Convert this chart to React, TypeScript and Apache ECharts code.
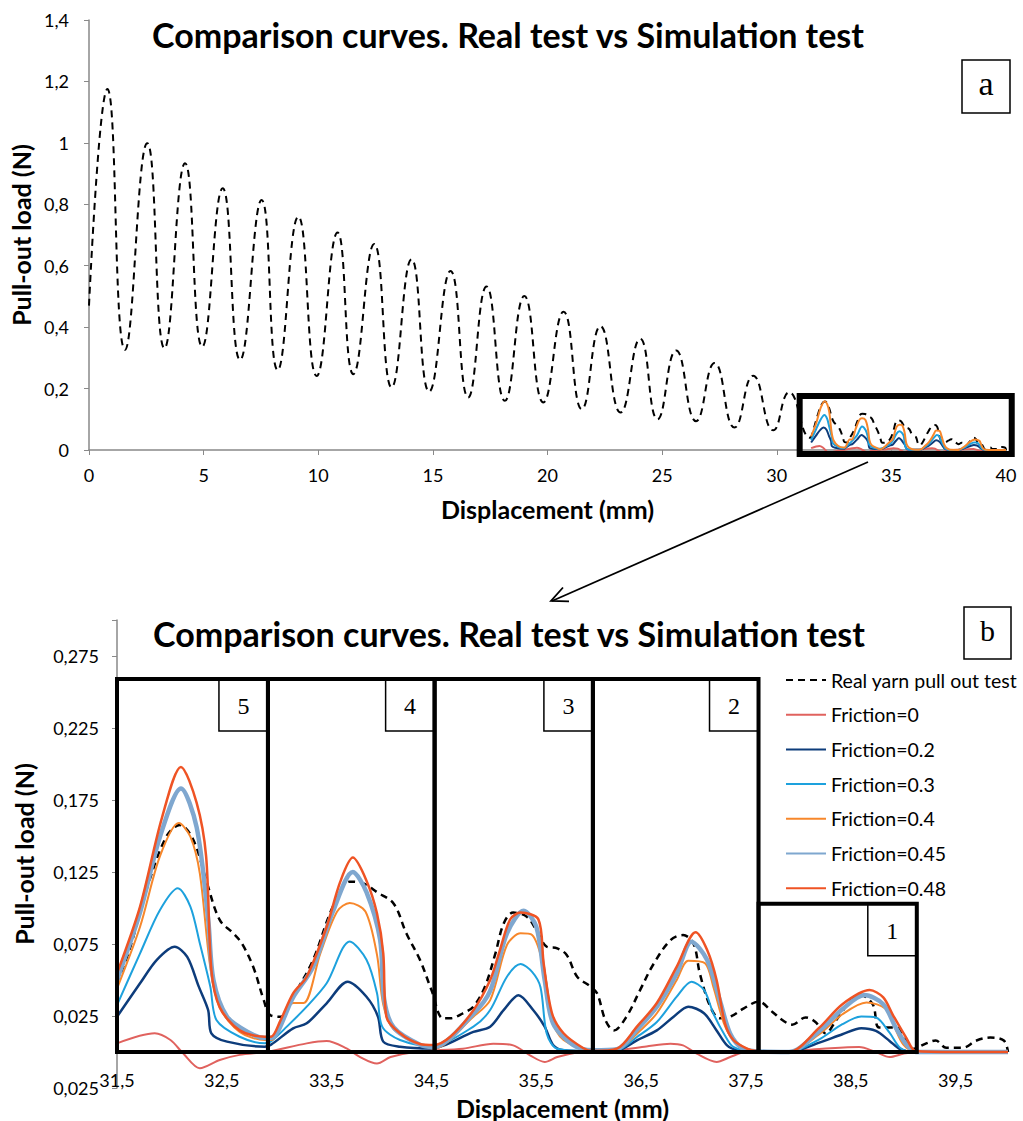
import { useEffect, useRef } from "react";
import * as echarts from "echarts";

const chartTitle = "Comparison curves. Real test vs Simulation test";
const xTitle = "Displacement (mm)";
const yTitle = "Pull-out load (N)";

const seriesNames = [
  "Real yarn pull out test",
  "Friction=0",
  "Friction=0.2",
  "Friction=0.3",
  "Friction=0.4",
  "Friction=0.45",
  "Friction=0.48",
];
const seriesColors = ["#000000", "#E0625E", "#0D3C7B", "#1DA1DD", "#F7872B", "#7FA7CF", "#EF5324"];
const seriesWidths = [2.5, 2, 2.5, 2, 2, 4.5, 2.5];

// Real yarn pull-out test (dashed), 0..40 mm
const realTest: [number, number][] = [
  [0, 0.47], [0.8, 1.175], [1.57, 0.326], [2.54, 0.999], [3.29, 0.331], [4.19, 0.934],
  [4.94, 0.336], [5.83, 0.852], [6.59, 0.293], [7.53, 0.814], [8.23, 0.26], [9.13, 0.76],
  [9.93, 0.241], [10.84, 0.708], [11.53, 0.247], [12.44, 0.671], [13.2, 0.204], [14.07, 0.621],
  [14.84, 0.19], [15.77, 0.583], [16.54, 0.171], [17.34, 0.532], [18.14, 0.16], [18.99, 0.501],
  [19.82, 0.155], [20.7, 0.45], [21.5, 0.133], [22.31, 0.403], [23.19, 0.122], [24.04, 0.362],
  [24.8, 0.1], [25.61, 0.324], [26.48, 0.094], [27.29, 0.283], [28.16, 0.073], [28.97, 0.242],
  [29.85, 0.064], [30.54, 0.188], [31.45, 0.04], [31.61, 0.069], [31.78, 0.1125], [31.97, 0.1495],
  [32.1, 0.1576], [32.23, 0.147], [32.36, 0.117], [32.48, 0.0917], [32.61, 0.0824], [32.69, 0.0755],
  [32.8, 0.059], [32.9, 0.036], [32.96, 0.0257], [33.06, 0.0245], [33.18, 0.0384], [33.37, 0.0639],
  [33.56, 0.101], [33.72, 0.1183], [33.85, 0.117], [33.98, 0.111], [34.14, 0.103], [34.26, 0.0824],
  [34.39, 0.064], [34.5, 0.043], [34.61, 0.0234], [34.68, 0.0234], [34.8, 0.0269], [34.9, 0.0315],
  [35.01, 0.0454], [35.11, 0.0685], [35.19, 0.0894], [35.28, 0.0968], [35.41, 0.094], [35.5, 0.0847],
  [35.6, 0.0731], [35.7, 0.072], [35.79, 0.0674], [35.89, 0.0523], [36.01, 0.0458], [36.08, 0.0407],
  [36.16, 0.022], [36.24, 0.015], [36.36, 0.0245], [36.49, 0.043], [36.62, 0.0613], [36.78, 0.0776],
  [36.9, 0.0812], [37.0, 0.0752], [37.06, 0.0546], [37.16, 0.0315], [37.25, 0.0234], [37.35, 0.0245],
  [37.48, 0.0303], [37.62, 0.035], [37.75, 0.028], [37.85, 0.022], [37.94, 0.019], [38.07, 0.024],
  [38.16, 0.021], [38.26, 0.013], [38.36, 0.022], [38.49, 0.035], [38.58, 0.04], [38.71, 0.033],
  [38.77, 0.017], [38.93, 0.017], [39.09, 0.002], [39.22, 0.006], [39.31, 0.008], [39.41, 0.003],
  [39.57, 0.003], [39.7, 0.008], [39.83, 0.01], [39.96, 0.008], [40.0, 0.0],
];

const friction0: [number, number][] = [
  [31.5, 0.006], [31.86, 0.013], [32.01, 0.0083], [32.13, -0.0009], [32.29, -0.0113], [32.48, -0.0056],
  [32.67, -0.002], [32.93, 0.0002], [33.31, 0.006], [33.5, 0.0076], [33.69, 0.0025], [33.82, -0.0035],
  [33.98, -0.008], [34.11, -0.0035], [34.36, 0.0002], [34.8, 0.0023], [35.09, 0.0058], [35.28, 0.0046],
  [35.44, -0.0023], [35.58, -0.0069], [35.7, -0.0035], [35.92, 0], [36.27, 0.0012], [36.55, 0.0039],
  [36.78, 0.0058], [36.9, 0.0046], [37.03, -0.0012], [37.22, -0.0069], [37.35, -0.0035], [37.5, 0],
  [37.72, 0], [38.23, 0.0023], [38.58, 0.0035], [38.74, 0], [38.87, -0.0035], [39.0, -0.0012],
  [39.12, 0], [39.5, 0], [40, 0],
];

const friction02: [number, number][] = [
  [31.5, 0.0245], [31.72, 0.0477], [31.88, 0.064], [32.05, 0.0731], [32.17, 0.066], [32.28, 0.0454],
  [32.37, 0.029], [32.4, 0.013], [32.55, 0.0072], [32.91, 0.0037], [32.97, 0.0051], [33.18, 0.0164],
  [33.31, 0.0199], [33.5, 0.0338], [33.7, 0.0488], [33.88, 0.0384], [33.99, 0.0245], [34.04, 0.0072],
  [34.2, 0.0037], [34.5, 0.0025], [34.9, 0.014], [35.06, 0.0176], [35.19, 0.0292], [35.33, 0.0394],
  [35.47, 0.0292], [35.58, 0.0176], [35.66, 0.0049], [35.76, 0.0012], [36.04, 0.0005], [36.27, 0.001],
  [36.46, 0.0081], [36.65, 0.015], [36.81, 0.0245], [36.95, 0.0315], [37.1, 0.0269], [37.22, 0.015],
  [37.32, 0.0046], [37.42, 0.0012], [37.6, 0], [37.91, 0], [38.2, 0.0065], [38.42, 0.0123],
  [38.6, 0.0165], [38.74, 0.0146], [38.87, 0.0077], [38.97, 0.002], [39.1, 0], [39.5, 0], [40, 0],
];

const friction03: [number, number][] = [
  [31.5, 0.0326], [31.72, 0.0685], [31.91, 0.0986], [32.08, 0.1137], [32.2, 0.101], [32.29, 0.0755],
  [32.39, 0.0454], [32.45, 0.022], [32.67, 0.0106], [32.91, 0.006], [32.97, 0.0074], [33.12, 0.0176],
  [33.31, 0.0315], [33.5, 0.0477], [33.72, 0.0768], [33.88, 0.064], [33.98, 0.041], [34.03, 0.0176],
  [34.2, 0.0083], [34.5, 0.0042], [34.9, 0.0176], [35.06, 0.0292], [35.22, 0.0523], [35.35, 0.0611],
  [35.46, 0.0556], [35.54, 0.045], [35.6, 0.0127], [35.7, 0.0023], [36.04, 0.0007], [36.27, 0.0012],
  [36.46, 0.0104], [36.65, 0.0208], [36.84, 0.0384], [36.98, 0.0488], [37.1, 0.0431], [37.19, 0.0266],
  [37.29, 0.0127], [37.38, 0.0035], [37.6, 0], [37.91, 0], [38.2, 0.0088], [38.42, 0.0193],
  [38.6, 0.0246], [38.74, 0.0239], [38.87, 0.0134], [38.97, 0.003], [39.1, 0], [39.5, 0], [40, 0],
];

const friction04: [number, number][] = [
  [31.5, 0.044], [31.72, 0.087], [31.91, 0.136], [32.09, 0.159], [32.2, 0.1495], [32.29, 0.124],
  [32.39, 0.059], [32.48, 0.031], [32.67, 0.014], [32.91, 0.0083], [32.97, 0.0083], [33.18, 0.034],
  [33.28, 0.034], [33.44, 0.0685], [33.6, 0.0976], [33.72, 0.1035], [33.87, 0.0976], [33.98, 0.0676],
  [34.04, 0.0329], [34.14, 0.0157], [34.39, 0.0056], [34.52, 0.0023], [34.9, 0.0245], [35.06, 0.036],
  [35.22, 0.0743], [35.35, 0.0824], [35.46, 0.0813], [35.57, 0.0593], [35.65, 0.022], [35.76, 0.0083],
  [36.04, 0.0007], [36.27, 0.0015], [36.46, 0.0127], [36.65, 0.0269], [36.84, 0.05], [36.95, 0.0634],
  [37.11, 0.0616], [37.19, 0.045], [37.29, 0.0199], [37.38, 0.0083], [37.51, 0.0023], [37.6, 0.0005],
  [37.91, 0], [38.2, 0.0123], [38.42, 0.0262], [38.65, 0.0344], [38.84, 0.0297], [38.92, 0.0169],
  [39.0, 0.0053], [39.1, 0.0007], [39.5, 0], [40, 0],
];

const friction045: [number, number][] = [
  [31.5, 0.05], [31.72, 0.097], [31.91, 0.1495], [32.11, 0.183], [32.26, 0.156], [32.37, 0.092],
  [32.42, 0.05], [32.55, 0.0245], [32.77, 0.013], [32.91, 0.0097], [32.97, 0.0097], [33.18, 0.038],
  [33.37, 0.059], [33.56, 0.0976], [33.75, 0.125], [33.88, 0.111], [34.01, 0.078], [34.05, 0.036],
  [34.14, 0.017], [34.39, 0.005], [34.52, 0.0035], [34.9, 0.0266], [35.06, 0.0424], [35.22, 0.0824],
  [35.38, 0.0981], [35.5, 0.087], [35.58, 0.05], [35.66, 0.0199], [35.85, 0.0049], [36.04, 0.0012],
  [36.27, 0.002], [36.46, 0.0155], [36.65, 0.0315], [36.84, 0.0546], [36.98, 0.0766], [37.13, 0.0639],
  [37.25, 0.0361], [37.35, 0.0127], [37.47, 0.0023], [37.6, 0.0005], [37.91, 0], [38.2, 0.0146],
  [38.42, 0.0297], [38.63, 0.0395], [38.81, 0.0332], [38.93, 0.0169], [39.03, 0.0053], [39.12, 0],
  [39.5, 0], [40, 0],
];

const friction048: [number, number][] = [
  [31.5, 0.0546], [31.72, 0.101], [31.93, 0.163], [32.11, 0.198], [32.26, 0.173], [32.35, 0.136],
  [32.4, 0.057], [32.48, 0.031], [32.67, 0.015], [32.91, 0.0106], [32.97, 0.0106], [33.06, 0.022],
  [33.18, 0.0407], [33.31, 0.0523], [33.5, 0.087], [33.63, 0.1183], [33.75, 0.135], [33.88, 0.119],
  [33.98, 0.0963], [34.04, 0.0685], [34.07, 0.0245], [34.2, 0.013], [34.39, 0.0056], [34.52, 0.0049],
  [34.68, 0.0106], [34.9, 0.029], [35.06, 0.05], [35.15, 0.07], [35.25, 0.092], [35.35, 0.0968],
  [35.52, 0.0921], [35.57, 0.0616], [35.65, 0.0269], [35.76, 0.013], [35.95, 0.0026], [36.04, 0.0007],
  [36.27, 0.0023], [36.46, 0.0176], [36.65, 0.034], [36.84, 0.0593], [37.02, 0.0831], [37.13, 0.0708],
  [37.22, 0.05], [37.3, 0.0199], [37.38, 0.0083], [37.51, 0.0023], [37.6, 0.0007], [37.91, 0],
  [38.2, 0.0169], [38.42, 0.0332], [38.68, 0.043], [38.81, 0.0379], [38.9, 0.026], [39.03, 0.0098],
  [39.12, 0.0007], [39.5, 0], [40, 0],
];

const frictionSeries = [friction0, friction02, friction03, friction04, friction045, friction048];

// annotation boxes: [x0, x1, y0, y1]
const overviewBox: [number, number, number, number][] = [[31.0, 40.25, -0.013, 0.176]];
const regionBoxes: [number, number, number, number][] = [
  [31.5, 32.94, 0, 0.259],
  [32.94, 34.53, 0, 0.259],
  [34.53, 36.04, 0, 0.259],
  [36.04, 37.62, 0, 0.259],
  [37.62, 39.13, 0, 0.103],
];
const regionLabels = ["5", "4", "3", "2", "1"];

const FONT = "Lato, 'Noto Sans', sans-serif";
const SERIF = "'Liberation Serif', 'DejaVu Serif', serif";
const AXIS_GRAY = "#898989";

// detail chart offsets (axis ticks counted from 31.5 mm and -0.025 N)
const DX = 31.5;
const DY = -0.025;
const toDetail = (pts: [number, number][]) => pts.map(([x, y]) => [x - DX, y - DY]);

function buildOption(): any {
  const boxRenderer = (lineWidth: number, labels: string[] | null) => (params: any, api: any) => {
    const tl = api.coord([api.value(0), api.value(3)]);
    const br = api.coord([api.value(1), api.value(2)]);
    const children: any[] = [];
    if (labels) {
      children.push({
        type: "rect",
        shape: { x: br[0] - 49, y: tl[1], width: 49, height: 52 },
        style: { fill: "#fff", stroke: "#000", lineWidth: 1.5 },
      });
      children.push({
        type: "text",
        x: br[0] - 24.5,
        y: tl[1] + 27,
        style: {
          text: labels[params.dataIndex],
          font: `24px ${SERIF}`,
          fill: "#000",
          align: "center",
          verticalAlign: "middle",
        },
      });
    }
    children.push({
      type: "rect",
      shape: { x: tl[0], y: tl[1], width: br[0] - tl[0], height: br[1] - tl[1] },
      style: { fill: "none", stroke: "#000", lineWidth },
    });
    return { type: "group", children };
  };

  const series: any[] = [];
  // overview chart
  series.push({
    name: "ov-real",
    type: "line",
    xAxisIndex: 0,
    yAxisIndex: 0,
    data: realTest,
    symbol: "none",
    smooth: 0.5,
    lineStyle: { color: "#000", width: 2, type: [7, 5] },
    z: 2,
  });
  for (let i = 0; i < 4; i++) {
    series.push({
      name: "ov-" + seriesNames[i + 1],
      type: "line",
      xAxisIndex: 0,
      yAxisIndex: 0,
      data: frictionSeries[i],
      symbol: "none",
      smooth: 0.3,
      lineStyle: { color: seriesColors[i + 1], width: 2 },
      z: 3,
    });
  }
  series.push({
    type: "custom",
    xAxisIndex: 0,
    yAxisIndex: 0,
    data: overviewBox,
    renderItem: boxRenderer(6, null),
    clip: false,
    silent: true,
    z: 10,
  });

  // detail chart
  series.push({
    name: seriesNames[0],
    type: "line",
    xAxisIndex: 1,
    yAxisIndex: 1,
    data: toDetail(realTest.filter((p) => p[0] >= 31.4)),
    symbol: "none",
    smooth: 0.35,
    color: "#000",
    lineStyle: { color: "#000", width: 2.5, type: [7, 5] },
    z: 2,
  });
  frictionSeries.forEach((pts, i) => {
    series.push({
      name: seriesNames[i + 1],
      type: "line",
      xAxisIndex: 1,
      yAxisIndex: 1,
      data: toDetail(pts),
      symbol: "none",
      smooth: 0.3,
      color: seriesColors[i + 1],
      lineStyle: { color: seriesColors[i + 1], width: seriesWidths[i + 1] },
      z: 3,
    });
  });
  series.push({
    type: "custom",
    xAxisIndex: 1,
    yAxisIndex: 1,
    data: regionBoxes.map(([x0, x1, y0, y1]) => [x0 - DX, x1 - DX, y0 - DY, y1 - DY]),
    renderItem: boxRenderer(4, regionLabels),
    clip: false,
    silent: true,
    z: 10,
  });

  const tickLabel = { fontFamily: FONT, fontSize: 18, color: "#000" };
  const nameStyle = { fontFamily: FONT, fontSize: 25, fontWeight: "bold", color: "#000" };
  const titleStyle = { fontFamily: FONT, fontSize: 34, fontWeight: "bold", color: "#000" };

  return {
    animation: false,
    backgroundColor: "#fff",
    title: [
      { text: chartTitle, left: 503, top: 12, textAlign: "center", textStyle: titleStyle },
      { text: chartTitle, left: 504, top: 611, textAlign: "center", textStyle: titleStyle },
    ],
    legend: {
      data: seriesNames,
      orient: "vertical",
      left: 785,
      top: 670,
      padding: 0,
      itemWidth: 40,
      itemHeight: 14,
      itemGap: 14.7,
      selectedMode: false,
      itemStyle: { opacity: 0, color: "transparent", borderColor: "transparent", borderWidth: 0 },
      textStyle: { fontFamily: FONT, fontSize: 19.5, color: "#000", lineHeight: 20 },
    },
    grid: [
      { left: 89, top: 20, width: 917, height: 430 },
      { left: 117, top: 620, width: 891, height: 468 },
    ],
    xAxis: [
      {
        gridIndex: 0,
        type: "value",
        min: 0,
        max: 40,
        interval: 5,
        name: xTitle,
        nameLocation: "middle",
        nameGap: 46,
        nameTextStyle: nameStyle,
        axisLine: { show: true, lineStyle: { color: AXIS_GRAY, width: 1.5 } },
        axisTick: { show: true, length: 5, lineStyle: { color: AXIS_GRAY } },
        axisLabel: { ...tickLabel, margin: 16 },
        splitLine: { show: false },
      },
      {
        gridIndex: 1,
        type: "value",
        min: 0,
        max: 8.5,
        interval: 1,
        name: xTitle,
        nameLocation: "middle",
        nameGap: 7,
        nameTextStyle: nameStyle,
        axisLine: { show: false },
        axisTick: { show: false },
        axisLabel: {
          ...tickLabel,
          margin: -17,
          formatter: (v: number) => (v > 8.2 ? "" : (v + DX).toFixed(1).replace(".", ",")),
        },
        splitLine: { show: false },
      },
    ],
    yAxis: [
      {
        gridIndex: 0,
        type: "value",
        min: 0,
        max: 1.4,
        interval: 0.2,
        name: yTitle,
        nameLocation: "middle",
        nameGap: 53,
        nameTextStyle: nameStyle,
        axisLine: { show: true, lineStyle: { color: AXIS_GRAY, width: 1.5 } },
        axisTick: { show: true, length: 5, lineStyle: { color: AXIS_GRAY } },
        axisLabel: {
          ...tickLabel,
          margin: 20,
          formatter: (v: number) => String(Math.round(v * 10) / 10).replace(".", ","),
        },
        splitLine: { show: false },
      },
      {
        gridIndex: 1,
        type: "value",
        min: 0,
        max: 0.325,
        interval: 0.05,
        name: yTitle,
        nameLocation: "middle",
        nameGap: 81,
        nameTextStyle: nameStyle,
        axisLine: { show: true, lineStyle: { color: AXIS_GRAY, width: 1.5 } },
        axisTick: { show: true, length: 5, lineStyle: { color: AXIS_GRAY } },
        axisLabel: {
          ...tickLabel,
          margin: 18,
          formatter: (v: number) =>
            v > 0.31 ? "" : Math.abs(v + DY).toFixed(3).replace(".", ","),
        },
        splitLine: { show: false },
      },
    ],
    graphic: [
      {
        type: "rect",
        shape: { x: 962, y: 60, width: 48, height: 53 },
        style: { fill: "#fff", stroke: "#000", lineWidth: 1.5 },
        z: 20,
      },
      {
        type: "text",
        x: 986,
        y: 83,
        style: { text: "a", font: `34px ${SERIF}`, fill: "#000", align: "center", verticalAlign: "middle" },
        z: 21,
      },
      {
        type: "rect",
        shape: { x: 964, y: 607, width: 47, height: 52 },
        style: { fill: "#fff", stroke: "#000", lineWidth: 1.5 },
        z: 20,
      },
      {
        type: "text",
        x: 987.5,
        y: 630,
        style: { text: "b", font: `30px ${SERIF}`, fill: "#000", align: "center", verticalAlign: "middle" },
        z: 21,
      },
      {
        type: "line",
        shape: { x1: 868, y1: 462, x2: 552, y2: 601 },
        style: { stroke: "#000", lineWidth: 1.8 },
        z: 20,
      },
      {
        type: "polyline",
        shape: { points: [[569, 601.4], [551, 601], [563, 587.5]] },
        style: { stroke: "#000", lineWidth: 1.8, fill: "none" },
        z: 20,
      },
    ],
    series,
  };
}

export default function App() {
  const ref = useRef<HTMLDivElement>(null);
  useEffect(() => {
    document.body.style.margin = "0";
    const chart = echarts.init(ref.current!, null, { renderer: "svg" });
    chart.setOption(buildOption());
    return () => chart.dispose();
  }, []);
  return <div ref={ref} style={{ width: 1023, height: 1121, overflow: "hidden" }} />;
}
